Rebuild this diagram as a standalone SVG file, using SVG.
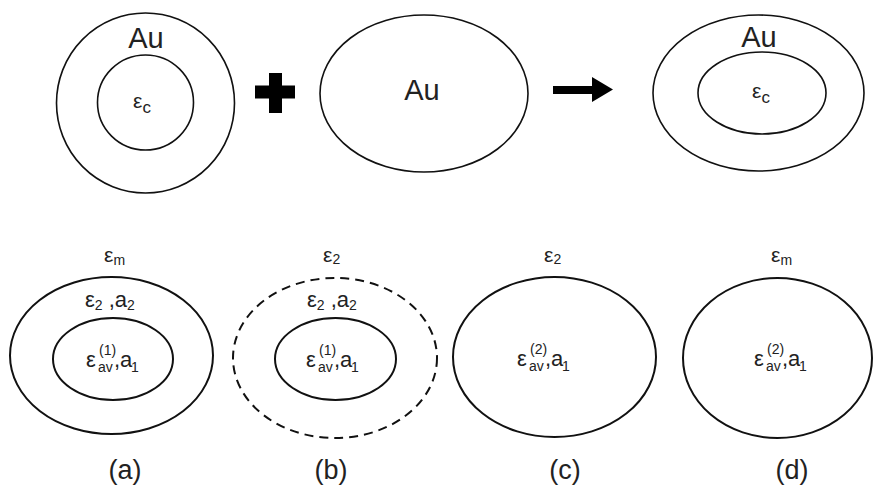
<svg xmlns="http://www.w3.org/2000/svg" width="873" height="486" viewBox="0 0 873 486">
<style>
.s1{fill:none;stroke:#111;stroke-width:1.6}
.s2{fill:none;stroke:#111;stroke-width:2}
.d{stroke-dasharray:9 6}
text{font-family:"Liberation Sans",Arial,sans-serif;fill:#222}
.au{font-size:29px}
.m{font-size:22px}
.sm{font-size:14px}
.lb{font-size:27px}
</style>
<rect width="873" height="486" fill="#fff"/>
<g id="top-core-shell">
<ellipse class="s1" cx="145.5" cy="103" rx="89" ry="90"/>
<ellipse class="s1" cx="145.5" cy="102.5" rx="48" ry="47.5"/>
<text class="au" x="146" y="48" text-anchor="middle">Au</text>
<text x="133" y="108"><tspan font-size="21">ε</tspan><tspan font-size="17" dy="5">c</tspan></text>
</g>
<g id="plus">
<rect x="269" y="73" width="13" height="40" fill="#000"/>
<rect x="255" y="85.5" width="40" height="13" fill="#000"/>
</g>
<g id="top-au">
<ellipse class="s1" cx="424" cy="93.5" rx="104" ry="78.5"/>
<text class="au" x="422" y="100" text-anchor="middle">Au</text>
</g>
<g id="connectors">
<path d="M553 86 H592 V77 L613 89.5 L592 102 V94 H553 Z" fill="#000"/>
</g>
<g id="top-result">
<ellipse class="s1" cx="758.5" cy="93" rx="105.5" ry="78"/>
<ellipse class="s1" cx="762" cy="93" rx="64" ry="41"/>
<text class="au" x="759" y="47" text-anchor="middle">Au</text>
<text x="752" y="98"><tspan font-size="21">ε</tspan><tspan font-size="17" dy="5">c</tspan></text>
</g>
<g id="a">
<text x="104" y="262"><tspan font-size="21">ε</tspan><tspan class="sm" dy="3">m</tspan></text>
<ellipse class="s2" cx="111.5" cy="355.5" rx="101.5" ry="78.5"/>
<ellipse class="s2" cx="113" cy="359" rx="60" ry="41"/>
<text x="85" y="307"><tspan class="m">ε</tspan><tspan class="sm" dy="3">2</tspan><tspan class="m" dy="-3"> ,a</tspan><tspan class="sm" dy="3">2</tspan></text>
<text x="86" y="367" class="m">ε</text>
<text x="99" y="355" class="sm">(1)</text>
<text x="98" y="372" class="sm">av</text>
<text x="114" y="367" class="m">,a</text>
<text x="131" y="372" class="sm">1</text>
<text class="lb" x="125" y="479" text-anchor="middle">(a)</text>
</g>
<g id="b">
<text x="323" y="262"><tspan font-size="21">ε</tspan><tspan class="sm" dy="2">2</tspan></text>
<ellipse class="s2 d" cx="335" cy="358" rx="102" ry="80"/>
<ellipse class="s2" cx="335.5" cy="359" rx="60.5" ry="41"/>
<text x="307" y="307"><tspan class="m">ε</tspan><tspan class="sm" dy="3">2</tspan><tspan class="m" dy="-3"> ,a</tspan><tspan class="sm" dy="3">2</tspan></text>
<text x="306" y="367" class="m">ε</text>
<text x="319" y="355" class="sm">(1)</text>
<text x="318" y="372" class="sm">av</text>
<text x="334" y="367" class="m">,a</text>
<text x="351" y="372" class="sm">1</text>
<text class="lb" x="331" y="479" text-anchor="middle">(b)</text>
</g>
<g id="c">
<text x="544" y="262"><tspan font-size="21">ε</tspan><tspan class="sm" dy="2">2</tspan></text>
<ellipse class="s2" cx="554.5" cy="357" rx="101.5" ry="80"/>
<text x="517" y="366" class="m">ε</text>
<text x="530" y="354" class="sm">(2)</text>
<text x="529" y="371" class="sm">av</text>
<text x="545" y="366" class="m">,a</text>
<text x="562" y="371" class="sm">1</text>
<text class="lb" x="565" y="479" text-anchor="middle">(c)</text>
</g>
<g id="d">
<text x="771" y="262"><tspan font-size="21">ε</tspan><tspan class="sm" dy="3">m</tspan></text>
<ellipse class="s2" cx="777.5" cy="358" rx="94.5" ry="80"/>
<text x="754" y="366" class="m">ε</text>
<text x="767" y="354" class="sm">(2)</text>
<text x="766" y="371" class="sm">av</text>
<text x="782" y="366" class="m">,a</text>
<text x="799" y="371" class="sm">1</text>
<text class="lb" x="792" y="479" text-anchor="middle">(d)</text>
</g>
</svg>
